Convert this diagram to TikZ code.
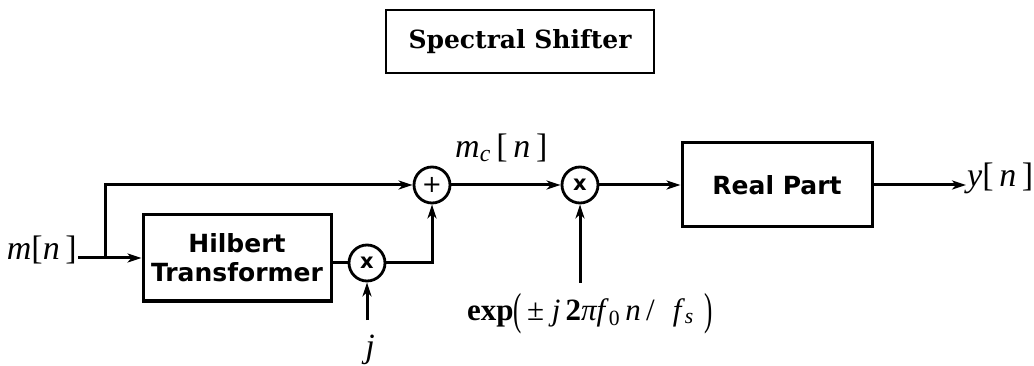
\documentclass[tikz,border=0pt]{standalone}
\usepackage{fontspec}
\setmainfont{Liberation Serif}
\newfontfamily\blkfont{DejaVu Sans}
\newfontfamily\ttlfont{DejaVu Serif}
\usetikzlibrary{arrows.meta}
\begin{document}
\begin{tikzpicture}[x=1pt,y=-1pt,
  wire/.style={line width=3pt},
  sig/.style={wire,-{Stealth[length=14pt,width=9pt,inset=4pt]}},
  blk/.style={draw,line width=3pt,align=center,font=\blkfont\bfseries\fontsize{25}{29}\selectfont},
  opc/.style={draw,circle,line width=2.8pt,minimum size=36pt,inner sep=0pt,font=\blkfont\bfseries\fontsize{21}{21}\selectfont},
  lbl/.style={font=\fontsize{34}{36}\selectfont,inner sep=1pt}]
\useasboundingbox (0,0) rectangle (1034,366);
\node[draw,line width=1.8pt,minimum width=268pt,minimum height=63pt,font=\ttlfont\bfseries\fontsize{25}{28}\selectfont] (title) at (520,41.5) {Spectral Shifter};
\node[blk,minimum width=188pt,minimum height=86pt] (hil) at (237,258) {Hilbert\\Transformer};
\node[opc] (mul1) at (367,263) {x};
\node[opc,font=\blkfont\fontsize{24}{24}\selectfont] (add) at (432,185) {+};
\node[opc] (mul2) at (580,185) {x};
\node[blk,minimum width=190pt,minimum height=84pt,font=\blkfont\bfseries\fontsize{25}{28}\selectfont] (re) at (777,185) {Real Part};
\node[lbl,anchor=base east] (in) at (78,260) {\textit{m}[\textit{n}\,]};
\coordinate (br) at (105,258);
\draw[wire] (in.east |- br) -- (br);
\draw[sig] (br) -- (br -| hil.west);
\draw[sig] (br) |- (add.west);
\draw[wire] (mul1.west) -- (mul1.west -| hil.east);
\draw[sig] (mul1.east) -| (add.south);
\node[lbl,font=\itshape\fontsize{34}{34}\selectfont,anchor=base] (j) at (370,357) {j};
\coordinate (jtop) at (367,320);
\draw[sig] (jtop) -- (mul1.south);
\draw[sig] (add.east) -- (mul2.west);
\node[lbl,anchor=base west] (mc) at (454,158) {\textit{m}\textsubscript{\textit{c}}\,[\,\textit{n}\,]};
\node[lbl,anchor=base west,font=\fontsize{31}{34}\selectfont] (exp) at (466,320) {\textbf{exp}\raisebox{-4pt}{\scalebox{0.8}[1.45]{(}}\,± \textit{j}\,\textbf{2}\textit{πf}\textsubscript{0}\,\textit{n}\,/\,\, \textit{f}\textsubscript{\textit{s}}\,\,\raisebox{-4pt}{\scalebox{0.8}[1.45]{)}}};
\coordinate (etop) at (580,283);
\draw[sig] (etop) -- (mul2.south);
\draw[sig] (mul2.east) -- (re.west);
\node[lbl,anchor=base west] (out) at (966,187) {\textit{y}[\,\textit{n}\,]};
\draw[sig] (re.east) -- (re.east -| out.west);
\end{tikzpicture}
\end{document}
